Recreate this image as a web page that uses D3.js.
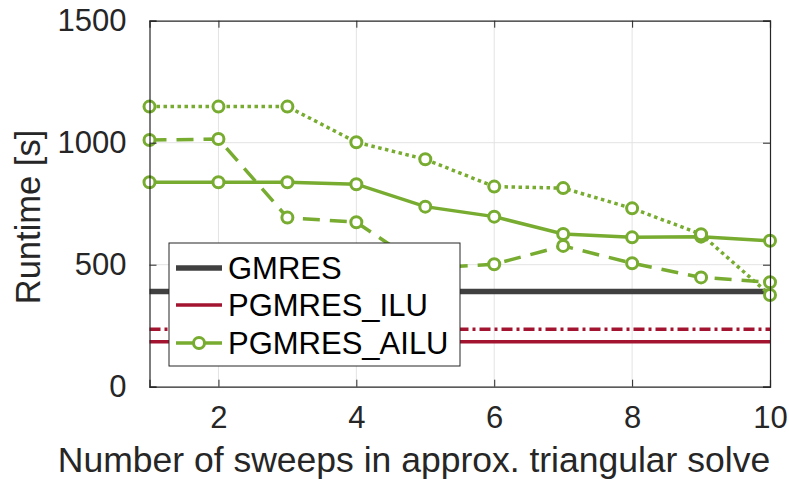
<!DOCTYPE html>
<html>
<head>
<meta charset="utf-8">
<script src="https://cdn.jsdelivr.net/npm/d3@7"></script>
<style>
  html, body { margin: 0; padding: 0; background: #fff; }
  svg { display: block; font-family: "Liberation Sans", Arial, Helvetica, sans-serif; }
</style>
</head>
<body>
<svg id="chart" width="789" height="479"></svg>
<script>
// Number of sweeps (x values)
const sweeps = [1, 2, 3, 4, 5, 6, 7, 8, 9, 10];

// Constant reference runtimes [s]
const gmresRuntime = 390;
const iluRuntime = 184;
const ilu2Runtime = 235;

// PGMRES with approximate ILU, three variants [s]
const ailuSolid  = [838, 838, 838, 830, 738, 697, 626, 612, 615, 598];
const ailuDashed = [1011, 1015, 693, 674, 485, 502, 577, 506, 448, 428];
const ailuDotted = [1148, 1148, 1148, 1002, 932, 820, 814, 731, 625, 376];

const xTicks = [2, 4, 6, 8, 10];
const yTicks = [0, 500, 1000, 1500];
const legendLabels = ["GMRES", "PGMRES_ILU", "PGMRES_AILU"];

const colGmres = "#404040";
const colIlu = "#A2142F";
const colAilu = "#77AC30";
const axisCol = "#262626";

const svg = d3.select("#chart");
const pLeft = 149.5, pRight = 770, pTop = 20.7, pBottom = 386.7;

const x = d3.scaleLinear().domain([1, 10]).range([pLeft, pRight]);
const y = d3.scaleLinear().domain([0, 1500]).range([pBottom, pTop]);

// grid
const grid = svg.append("g");
grid.selectAll("line.vx").data(xTicks.filter(d => d < 10)).join("line")
  .attr("x1", d => x(d)).attr("x2", d => x(d))
  .attr("y1", pTop).attr("y2", pBottom)
  .attr("stroke", "#e3e3e3").attr("stroke-width", 1);
grid.selectAll("line.hy").data(yTicks.filter(d => d > 0 && d < 1500)).join("line")
  .attr("x1", pLeft).attr("x2", pRight)
  .attr("y1", d => y(d)).attr("y2", d => y(d))
  .attr("stroke", "#e3e3e3").attr("stroke-width", 1);

// axes (with inward ticks, box on all four sides)
const tickLen = 7;
const fontTick = 31;
const axB = d3.axisBottom(x).tickValues(xTicks).tickFormat(d3.format("d"))
  .tickSize(-tickLen).tickPadding(tickLen + 12);
const axL = d3.axisLeft(y).tickValues(yTicks).tickFormat(d3.format("d"))
  .tickSize(-tickLen).tickPadding(tickLen + 16);
const axT = d3.axisTop(x).tickValues(xTicks).tickSize(-tickLen).tickFormat("");
const axR = d3.axisRight(y).tickValues(yTicks).tickSize(-tickLen).tickFormat("");

function styleAxis(g) {
  g.select(".domain").attr("stroke", axisCol).attr("stroke-width", 1.2);
  g.selectAll(".tick line").attr("stroke", axisCol).attr("stroke-width", 1);
  g.selectAll(".tick text").attr("fill", "#262626").attr("font-size", fontTick)
    .attr("font-family", "Liberation Sans, Arial, sans-serif");
}

// data layer
const lineGen = d3.line().x((d, i) => x(sweeps[i])).y(d => y(d));

function hline(val, color, width, dash) {
  svg.append("line")
    .attr("x1", x(1)).attr("x2", x(10))
    .attr("y1", y(val)).attr("y2", y(val))
    .attr("stroke", color).attr("stroke-width", width)
    .attr("stroke-dasharray", dash || null);
}
hline(gmresRuntime, colGmres, 5.5);
hline(ilu2Runtime, colIlu, 3.5, "11,4,3,4");
hline(iluRuntime, colIlu, 3.5);

function series(vals, dash) {
  svg.append("path").datum(vals)
    .attr("d", lineGen)
    .attr("fill", "none")
    .attr("stroke", colAilu).attr("stroke-width", 3.5)
    .attr("stroke-dasharray", dash || null);
  svg.append("g").selectAll("circle").data(vals).join("circle")
    .attr("cx", (d, i) => x(sweeps[i])).attr("cy", d => y(d))
    .attr("r", 5.5)
    .attr("fill", "#fff").attr("stroke", colAilu).attr("stroke-width", 3);
}
series(ailuSolid);
series(ailuDashed, "17,10");
series(ailuDotted, "3.5,3.5");

svg.append("g").attr("transform", `translate(0,${pBottom})`).call(axB).call(styleAxis);
svg.append("g").attr("transform", `translate(${pLeft},0)`).call(axL).call(styleAxis);
svg.append("g").attr("transform", `translate(0,${pTop})`).call(axT).call(styleAxis);
svg.append("g").attr("transform", `translate(${pRight},0)`).call(axR).call(styleAxis);

// axis labels
svg.append("text")
  .attr("x", 414).attr("y", 472)
  .attr("text-anchor", "middle").attr("font-size", 35.5).attr("fill", "#262626")
  .text("Number of sweeps in approx. triangular solve");
svg.append("text")
  .attr("transform", "translate(40,217) rotate(-90)")
  .attr("text-anchor", "middle").attr("font-size", 34.5).attr("fill", "#262626")
  .text("Runtime [s]");

// legend
const lg = svg.append("g");
const lx = 169, ly = 243, lw = 291, lh = 123;
lg.append("rect").attr("x", lx).attr("y", ly).attr("width", lw).attr("height", lh)
  .attr("fill", "#fff").attr("stroke", axisCol).attr("stroke-width", 1);
const legendStyles = [
  { color: colGmres, width: 5.5, marker: false },
  { color: colIlu, width: 3.5, marker: false },
  { color: colAilu, width: 3.5, marker: true }
];
const rowY = [268, 305, 343];
legendLabels.forEach((lab, i) => {
  const st = legendStyles[i];
  lg.append("line").attr("x1", lx + 7).attr("x2", lx + 53)
    .attr("y1", rowY[i]).attr("y2", rowY[i])
    .attr("stroke", st.color).attr("stroke-width", st.width);
  if (st.marker) {
    lg.append("circle").attr("cx", lx + 30).attr("cy", rowY[i]).attr("r", 5.5)
      .attr("fill", "#fff").attr("stroke", st.color).attr("stroke-width", 3);
  }
  lg.append("text").attr("x", lx + 59).attr("y", rowY[i]).attr("dy", "0.36em")
    .attr("font-size", 31).attr("fill", "#000").text(lab);
});
</script>
</body>
</html>
